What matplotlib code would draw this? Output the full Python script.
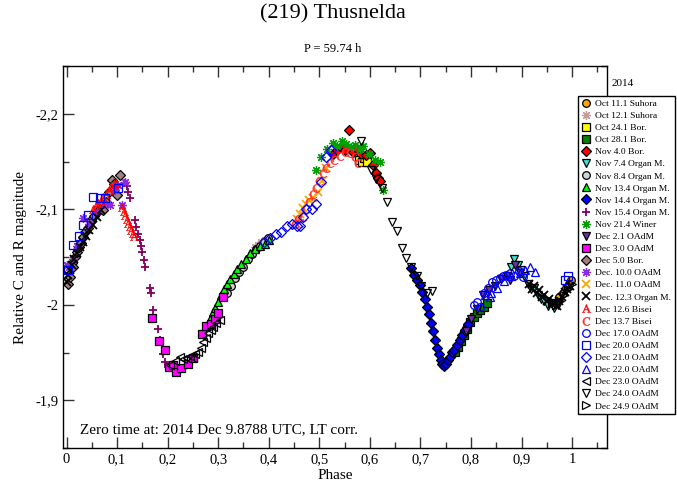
import matplotlib
matplotlib.use("Agg")
import matplotlib.pyplot as plt
from matplotlib.ticker import MultipleLocator, FuncFormatter

plt.rcParams['font.family'] = ['Liberation Serif', 'DejaVu Serif']
plt.rcParams['mathtext.fontset'] = 'stix'
plt.rcParams['axes.unicode_minus'] = False

# ---------------- data (phase, relative magnitude) ----------------
oct11_ph = [0.975, 0.982, 0.988, 0.993, 0.998]
oct11_mag = [-2.008, -2.012, -2.018, -2.022, -2.026]

oct12_ph = [0.372, 0.378, 0.385, 0.392]
oct12_mag = [-2.060, -2.063, -2.066, -2.068]

oct24_ph = [0.578, 0.584, 0.589, 0.594]
oct24_mag = [-2.152, -2.150, -2.154, -2.149]

oct28_ph = [0.768, 0.775, 0.781, 0.787, 0.793, 0.799, 0.806, 0.812, 0.818, 0.825, 0.831]
oct28_mag = [-1.950, -1.956, -1.962, -1.968, -1.975, -1.982, -1.987, -1.991, -1.995, -1.998, -2.002]

nov4_ph = [0.528, 0.535, 0.543, 0.551, 0.558, 0.567, 0.575, 0.583, 0.592, 0.600, 0.606, 0.612, 0.616, 0.620]
nov4_mag = [-2.158, -2.162, -2.165, -2.162, -2.183, -2.160, -2.163, -2.158, -2.157, -2.159, -2.146, -2.138, -2.133, -2.130]

nov7_ph = [0.880, 0.886, 0.892, 0.898, 0.905, 0.912, 0.918, 0.925, 0.932, 0.938, 0.945, 0.952, 0.958, 0.965, 0.972]
nov7_mag = [-2.040, -2.048, -2.042, -2.036, -2.030, -2.022, -2.016, -2.018, -2.010, -2.006, -2.004, -1.999, -2.002, -1.997, -2.000]

nov8_ph = [0.318, 0.326, 0.333, 0.341, 0.350, 0.358, 0.366, 0.374, 0.382, 0.390, 0.398]
nov8_mag = [-2.012, -2.020, -2.028, -2.034, -2.040, -2.048, -2.053, -2.058, -2.062, -2.066, -2.070]

nov13_ph = [0.284, 0.289, 0.294, 0.300, 0.306, 0.312, 0.318, 0.324, 0.331, 0.338, 0.346, 0.354, 0.362, 0.372, 0.382, 0.392, 0.400]
nov13_mag = [-1.985, -1.992, -1.997, -2.003, -2.010, -2.016, -2.022, -2.027, -2.032, -2.037, -2.043, -2.048, -2.054, -2.058, -2.062, -2.064, -2.068]

nov14_ph = [0.682, 0.688, 0.694, 0.699, 0.704, 0.709, 0.713, 0.717, 0.721, 0.725, 0.729, 0.733, 0.737,
            0.740, 0.743, 0.746, 0.750, 0.754, 0.758, 0.762, 0.767, 0.772, 0.778, 0.783, 0.789, 0.794]
nov14_mag = [-2.038, -2.031, -2.026, -2.021, -2.013, -2.006, -1.998, -1.990, -1.981, -1.972, -1.963, -1.955, -1.948,
             -1.942, -1.938, -1.936, -1.938, -1.942, -1.945, -1.950, -1.953, -1.958, -1.963, -1.968, -1.974, -1.980]

nov15_ph = [0.116, 0.119, 0.121, 0.125, 0.135, 0.138, 0.141, 0.145, 0.148, 0.150, 0.153, 0.156,
            0.165, 0.168, 0.172, 0.180, 0.185, 0.190, 0.195, 0.200]
nov15_mag = [-2.128, -2.124, -2.118, -2.112, -2.089, -2.081, -2.074, -2.068, -2.062, -2.055, -2.047, -2.040,
             -2.018, -2.012, -1.995, -1.975, -1.963, -1.948, -1.940, -1.935]

nov21_ph = [0.494, 0.504, 0.515, 0.527, 0.535, 0.544, 0.553, 0.562, 0.571, 0.580, 0.586, 0.598, 0.610, 0.620, 0.626]
nov21_mag = [-2.141, -2.155, -2.163, -2.169, -2.166, -2.171, -2.168, -2.165, -2.167, -2.163, -2.166, -2.158, -2.152, -2.150, -2.120]

dec2_ph = [0.790, 0.800, 0.812, 0.824, 0.836, 0.848, 0.860, 0.872, 0.877, 0.887, 0.896]
dec2_mag = [-1.972, -1.985, -1.996, -2.010, -2.015, -2.020, -2.027, -2.030, -2.026, -2.042, -2.033]

dec3_ph = [0.170, 0.182, 0.194, 0.203, 0.210, 0.217, 0.227, 0.240, 0.250, 0.267, 0.275, 0.285, 0.294, 0.300, 0.310]
dec3_mag = [-1.986, -1.962, -1.953, -1.935, -1.937, -1.930, -1.934, -1.938, -1.944, -1.969, -1.978, -1.980, -1.985, -1.991, -2.008]

dec5_ph = [0.002, 0.007, 0.010, 0.013, 0.016, 0.020, 0.024, 0.028, 0.032, 0.037, 0.042, 0.049, 0.055, 0.061,
           0.066, 0.072, 0.078, 0.083, 0.089, 0.094, 0.099, 0.106]
dec5_mag = [-2.022, -2.029, -2.044, -2.040, -2.050, -2.055, -2.060, -2.065, -2.071, -2.076, -2.080, -2.089, -2.093, -2.097,
            -2.100, -2.099, -2.108, -2.118, -2.131, -2.126, -2.115, -2.136]

dec10_ph = [0.000, 0.005, 0.012, 0.020, 0.033, 0.045, 0.060, 0.075, 0.086, 0.095, 0.102, 0.109, 0.115]
dec10_mag = [-2.042, -2.040, -2.048, -2.062, -2.091, -2.085, -2.097, -2.105, -2.104, -2.120, -2.125, -2.104, -2.129]

dec11_ph = [0.455, 0.462, 0.468, 0.474, 0.480, 0.487, 0.497, 0.505, 0.514]
dec11_mag = [-2.090, -2.095, -2.101, -2.106, -2.110, -2.112, -2.118, -2.130, -2.143]

dec12_ph = [0.000, 0.003, 0.006, 0.010, 0.015, 0.020, 0.026, 0.032, 0.038, 0.045, 0.052, 0.060, 0.068,
            0.915, 0.920, 0.925, 0.930, 0.935, 0.940, 0.945, 0.950, 0.955, 0.960, 0.965, 0.970, 0.975,
            0.980, 0.985, 0.990, 0.995]
dec12_mag = [-2.024, -2.031, -2.036, -2.042, -2.048, -2.054, -2.060, -2.066, -2.072, -2.078, -2.084, -2.092, -2.099,
             -2.022, -2.016, -2.020, -2.012, -2.015, -2.008, -2.010, -2.004, -2.006, -2.001, -2.003, -1.999, -2.004,
             -2.008, -2.013, -2.016, -2.020]

dec12b_ph = [0.053, 0.058, 0.063, 0.068, 0.073, 0.078, 0.083, 0.088, 0.093, 0.098,
             0.110, 0.113, 0.116, 0.119, 0.122, 0.125, 0.128, 0.131, 0.134]
dec12b_mag = [-2.100, -2.104, -2.107, -2.110, -2.113, -2.116, -2.120, -2.124, -2.126, -2.128,
              -2.102, -2.098, -2.094, -2.090, -2.086, -2.082, -2.078, -2.075, -2.072]

dec13_ph = [0.452, 0.458, 0.462, 0.468, 0.474, 0.480, 0.487, 0.494, 0.500, 0.507, 0.514, 0.521,
            0.530, 0.540, 0.550, 0.560, 0.570, 0.577]
dec13_mag = [-2.085, -2.090, -2.086, -2.092, -2.100, -2.108, -2.116, -2.122, -2.130, -2.138, -2.143, -2.148,
             -2.152, -2.156, -2.160, -2.159, -2.155, -2.148]

dec17_ph = [0.806, 0.812, 0.818, 0.826, 0.834, 0.842, 0.850, 0.857, 0.864, 0.870, 0.878, 0.886, 0.895, 0.903]
dec17_mag = [-2.000, -2.003, -1.998, -2.012, -2.018, -2.024, -2.026, -2.028, -2.030, -2.031, -2.033, -2.030, -2.035, -2.029]

dec20_ph = [0.003, 0.013, 0.024, 0.033, 0.043, 0.053, 0.066, 0.076, 0.102, 0.985, 0.992]
dec20_mag = [-2.036, -2.063, -2.072, -2.083, -2.094, -2.113, -2.112, -2.112, -2.122, -2.026, -2.030]

dec21_ph = [0.390, 0.402, 0.414, 0.425, 0.436, 0.446, 0.455, 0.461, 0.468, 0.474, 0.485, 0.494, 0.504, 0.514, 0.524]
dec21_mag = [-2.066, -2.070, -2.074, -2.076, -2.082, -2.085, -2.082, -2.082, -2.092, -2.100, -2.100, -2.106, -2.129, -2.155, -2.162]

dec22_ph = [0.827, 0.837, 0.840, 0.852, 0.866, 0.880, 0.896, 0.906, 0.916, 0.926]
dec22_mag = [-2.010, -2.008, -2.012, -2.018, -2.025, -2.030, -2.033, -2.036, -2.040, -2.034]

dec23_ph = [0.205, 0.214, 0.224, 0.231, 0.238, 0.244, 0.250, 0.255, 0.260, 0.265, 0.270, 0.275, 0.280,
            0.285, 0.290, 0.296, 0.303]
dec23_mag = [-1.937, -1.941, -1.945, -1.943, -1.944, -1.946, -1.944, -1.948, -1.950, -1.955, -1.961, -1.965, -1.970,
             -1.974, -1.977, -1.981, -1.984]

dec24_ph = [0.583, 0.603, 0.613, 0.623, 0.633, 0.643, 0.653, 0.663, 0.672, 0.682, 0.693, 0.702, 0.712, 0.722]
dec24_mag = [-2.171, -2.141, -2.132, -2.122, -2.108, -2.087, -2.077, -2.059, -2.049, -2.040, -2.030, -2.020, -2.012, -2.014]

dec249_ph = [0.960, 0.968, 0.976, 0.984, 0.992, 1.000]
dec249_mag = [-2.002, -2.000, -2.004, -2.010, -2.016, -2.022]

# label, x, y, marker, face, edge
series = [
    ('Oct 11.1 Suhora', oct11_ph, oct11_mag, 'o', '#FFA500', 'black'),
    ('Oct 12.1 Suhora', oct12_ph, oct12_mag, (8, 2, 0), '#C89A9A', '#C89A9A'),
    ('Oct 24.1 Bor.', oct24_ph, oct24_mag, 's', '#FFFF00', 'black'),
    ('Oct 28.1 Bor.', oct28_ph, oct28_mag, 's', '#008000', 'black'),
    ('Nov 4.0 Bor.', nov4_ph, nov4_mag, 'D', '#FF0000', 'black'),
    ('Nov 7.4 Organ M.', nov7_ph, nov7_mag, 'v', '#40E0D0', 'black'),
    ('Nov 8.4 Organ M.', nov8_ph, nov8_mag, 'o', '#D3D3D3', 'black'),
    ('Nov 13.4 Organ M.', nov13_ph, nov13_mag, '^', '#00FF00', 'black'),
    ('Nov 14.4 Organ M.', nov14_ph, nov14_mag, 'D', '#0000FF', 'black'),
    ('Nov 15.4 Organ M.', nov15_ph, nov15_mag, '+', '#800060', '#800060'),
    ('Nov 21.4 Winer', nov21_ph, nov21_mag, (8, 2, 0), '#00A000', '#00A000'),
    ('Dec 2.1 OAdM', dec2_ph, dec2_mag, 'v', '#7030A0', 'black'),
    ('Dec 3.0 OAdM', dec3_ph, dec3_mag, 's', '#FF00FF', 'black'),
    ('Dec 5.0 Bor.', dec5_ph, dec5_mag, 'D', '#A08080', 'black'),
    ('Dec. 10.0 OAdM', dec10_ph, dec10_mag, (8, 2, 0), '#8A2BE2', '#8A2BE2'),
    ('Dec. 11.0 OAdM', dec11_ph, dec11_mag, 'x', '#FFA500', '#FFA500'),
    ('Dec. 12.3 Organ M.', dec12_ph, dec12_mag, 'x', 'black', 'black'),
    ('Dec 12.6 Bisei', dec12b_ph, dec12b_mag, r'$\mathrm{A}$', '#FF0000', '#FF0000'),
    ('Dec 13.7 Bisei', dec13_ph, dec13_mag, r'$\mathrm{C}$', '#FF3030', '#FF3030'),
    ('Dec 17.0 OAdM', dec17_ph, dec17_mag, 'o', 'none', '#0000FF'),
    ('Dec 20.0 OAdM', dec20_ph, dec20_mag, 's', 'none', '#0000FF'),
    ('Dec 21.0 OAdM', dec21_ph, dec21_mag, 'D', 'none', '#0000FF'),
    ('Dec 22.0 OAdM', dec22_ph, dec22_mag, '^', 'none', '#0000FF'),
    ('Dec 23.0 OAdM', dec23_ph, dec23_mag, '<', 'none', 'black'),
    ('Dec 24.0 OAdM', dec24_ph, dec24_mag, 'v', 'none', 'black'),
    ('Dec 24.9 OAdM', dec249_ph, dec249_mag, '>', 'none', 'black'),
]

fig = plt.figure(figsize=(6.77, 4.83), dpi=100)
ax = fig.add_axes([63/677, 35/483, 544/677, 382/483])

handles = []
for lab, xs, ys, mk, fc, ec in series:
    ms = 5.5
    mew = 0.9
    if mk in ('+', 'x'):
        mew = 1.3
        ms = 6
    if isinstance(mk, tuple):
        mew = 0.9
        ms = 6.5
    if isinstance(mk, str) and mk.startswith('$'):
        ms = 6
        mew = 0.3
    h, = ax.plot(xs, ys, linestyle='none', marker=mk, markersize=ms,
                 markerfacecolor=fc, markeredgecolor=ec, markeredgewidth=mew,
                 color=ec, label=lab)
    handles.append(h)

ax.set_xlim(-0.007, 1.069)
ax.set_ylim(-1.85, -2.25)

comma = FuncFormatter(lambda v, p: ('%g' % round(v, 3)).replace('.', ','))
ax.xaxis.set_major_locator(MultipleLocator(0.1))
ax.xaxis.set_minor_locator(MultipleLocator(0.05))
ax.yaxis.set_major_locator(MultipleLocator(0.1))
ax.yaxis.set_minor_locator(MultipleLocator(0.05))
ax.xaxis.set_major_formatter(comma)
ax.yaxis.set_major_formatter(comma)
ax.tick_params(which='both', direction='in', top=True, right=True, labelsize=10.5, color='#333333')
ax.tick_params(which='major', length=8, width=1)
ax.tick_params(which='minor', length=4, width=1)
for s in ax.spines.values():
    s.set_linewidth(1)

ax.set_xlabel('Phase', fontsize=11, labelpad=2)
ax.set_ylabel('Relative C and R magnitude', fontsize=11, labelpad=6)

ax.text(80/677, 1-430/483, 'Zero time at: 2014 Dec 9.8788 UTC, LT corr.', transform=fig.transFigure,
        fontsize=11, va='center', ha='left')

fig.text(333/677, 1-14/483, '(219) Thusnelda', ha='center', va='center', fontsize=16)
fig.text(333/677, 1-49/483, 'P = 59.74 h', ha='center', va='center', fontsize=9)
fig.text(612/677, 1-83/483, '2014', ha='left', va='center', fontsize=8)

leg = ax.legend(handles=handles, loc='upper left', bbox_to_anchor=(578/677, 1-96/483),
                bbox_transform=fig.transFigure, frameon=True, fancybox=False, framealpha=1,
                edgecolor='black', fontsize=6.8, borderpad=0.35, handletextpad=0.5,
                handlelength=1.0, labelspacing=0.37, borderaxespad=0)
leg.get_frame().set_linewidth(1)
leg.set_zorder(10)

fig.savefig('out.png', dpi=100, facecolor='white')
